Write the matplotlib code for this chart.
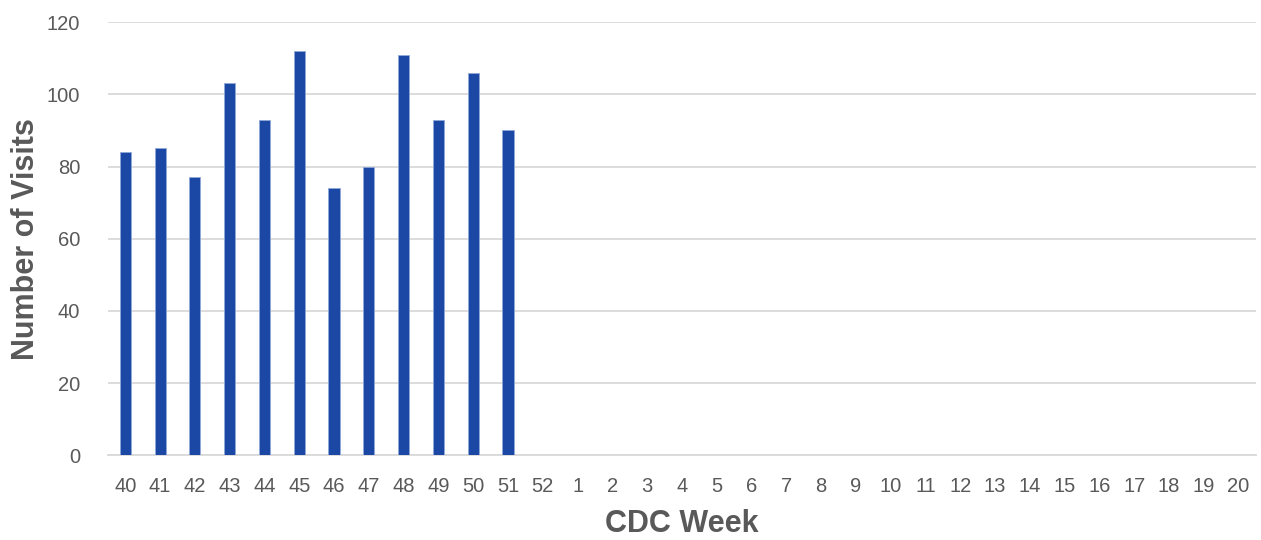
import matplotlib.pyplot as plt
import numpy as np

# data
weeks = [str(w) for w in range(40, 53)] + [str(w) for w in range(1, 21)]
visits = [84, 85, 77, 103, 93, 112, 74, 80, 111, 93, 106, 90]

BAR_COLOR = "#1B48A5"
TEXT_COLOR = "#595959"
GRID_COLOR = "#D9D9D9"

plt.rcParams['font.family'] = ['Liberation Sans', 'DejaVu Sans']

fig = plt.figure(figsize=(12.61, 5.40), dpi=100)
ax = fig.add_axes([0.0856, 0.157, 0.9104, 0.802])

x = np.arange(len(weeks))
vals = visits + [np.nan] * (len(weeks) - len(visits))
ax.bar(x, vals, width=0.32, color=BAR_COLOR, edgecolor="#8FA8D8", linewidth=0.6, zorder=3)

ax.set_xlim(-0.5, len(weeks) - 0.5)
ax.set_ylim(0, 120)
ax.set_yticks(np.arange(0, 121, 20))
ax.set_xticks(x)
ax.set_xticklabels(weeks)

ax.grid(axis="y", color=GRID_COLOR, linewidth=1.3, zorder=0)
for s in ["top", "right", "left"]:
    ax.spines[s].set_visible(False)
ax.spines["bottom"].set_color(GRID_COLOR)
ax.spines["bottom"].set_linewidth(1.3)

ax.tick_params(axis="both", length=0, labelsize=14.5, colors=TEXT_COLOR)
ax.tick_params(axis="x", pad=16)
ax.tick_params(axis="y", pad=20)

ax.set_xlabel("CDC Week", fontsize=22, fontweight="bold", color=TEXT_COLOR, labelpad=9)
ax.set_ylabel("Number of Visits", fontsize=22, fontweight="bold", color=TEXT_COLOR, labelpad=4)

fig.savefig("out.png", dpi=100)
